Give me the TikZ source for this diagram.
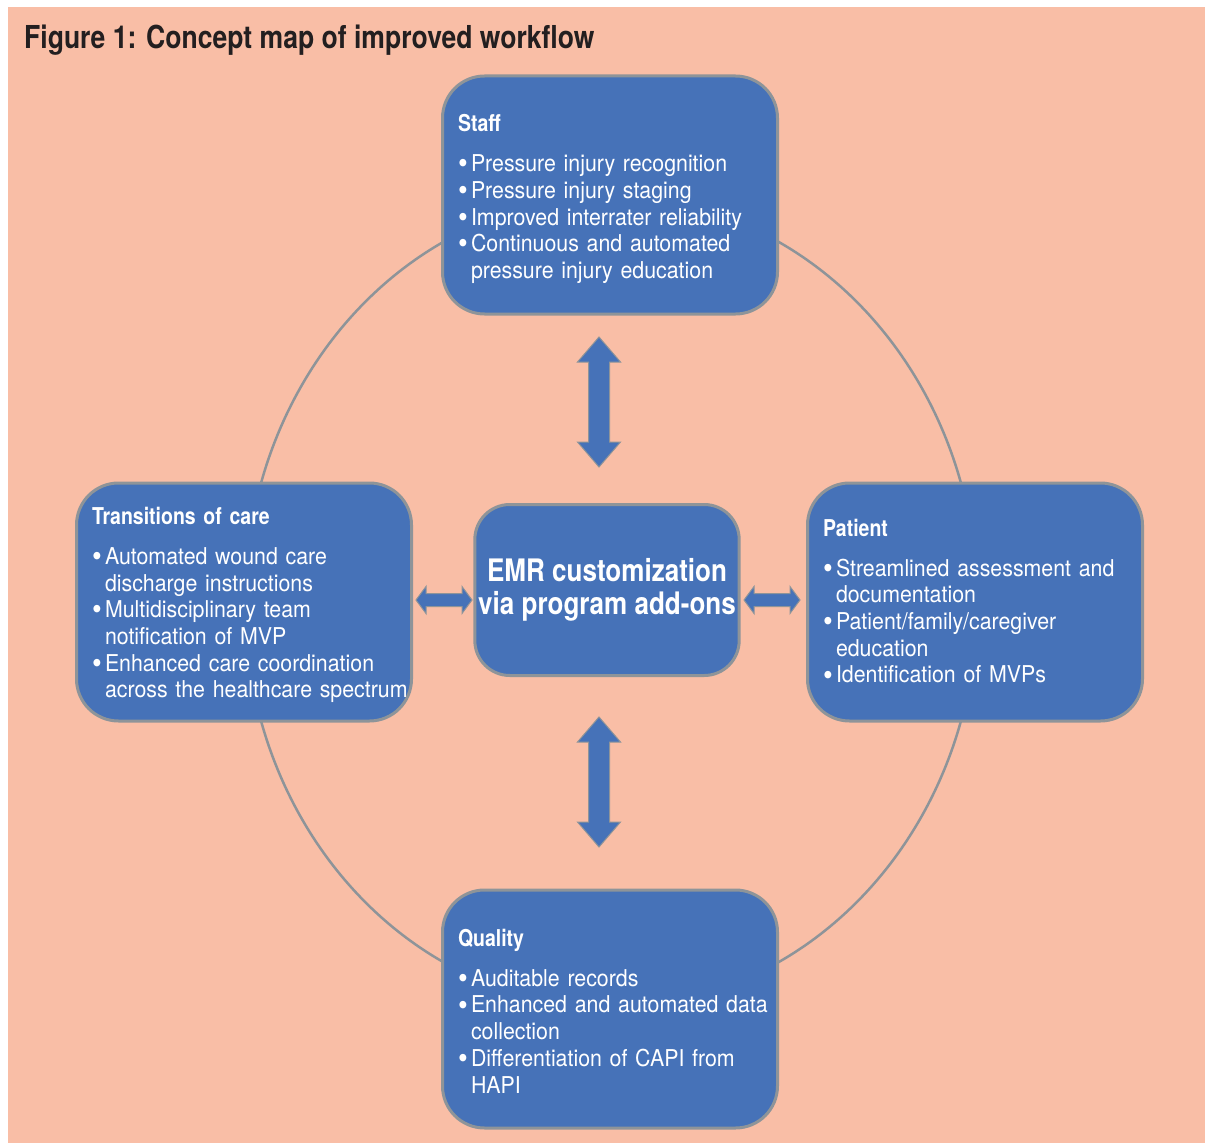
\documentclass[tikz,border=0pt]{standalone}
\usepackage{fontspec}
\setmainfont{TeX Gyre Heros}[FakeStretch=0.92]
\newfontfamily\headfont{TeX Gyre Heros}[FakeStretch=0.84]

\definecolor{salmon}{HTML}{F9BEA6}
\definecolor{boxblue}{HTML}{4672B8}
\definecolor{rimgray}{HTML}{8E9499}
\definecolor{titleblack}{HTML}{231F20}

\newcommand{\bigbul}{\raisebox{-2.2pt}{\scalebox{1.3}{\textbullet}}}
\newcommand{\hd}[1]{{\headfont\bfseries #1}\par\vspace{13.3pt}}
\newcommand{\itm}[1]{\noindent\makebox[13pt][l]{\bigbul}\mbox{#1}\par}
\newcommand{\itmm}[2]{\noindent\makebox[13pt][l]{\bigbul}\mbox{#1}\par
  \noindent\hspace*{13pt}\mbox{#2}\par}

\tikzset{
  topic/.style={draw=rimgray, line width=3pt, fill=boxblue, rounded corners=42pt,
    minimum width=335pt, minimum height=238pt, text width=304pt, inner xsep=15.5pt,
    inner ysep=0pt, align=left, text=white, font=\fontsize{23.2}{26.7}\selectfont},
  hub/.style={draw=rimgray, line width=3pt, fill=boxblue, rounded corners=35pt,
    minimum width=259pt, minimum height=171pt, align=center, text=white,
    font=\headfont\bfseries\fontsize{31}{33.5}\selectfont},
  ring/.style={draw=rimgray, line width=2.5pt},
  blockarrow/.style={fill=boxblue, draw=rimgray, line width=1pt, line join=miter}
}

\begin{document}
\begin{tikzpicture}[x=1pt,y=-1pt]
  \useasboundingbox (0,0) rectangle (1205,1145);
  \fill[salmon] (8,7) rectangle (1205,1143);

  \node[anchor=base west, inner sep=0pt, text=titleblack,
    font=\headfont\bfseries\fontsize{31.6}{31.6}\selectfont] (title) at (24,49)
    {Figure 1: Concept map of improved workflow};

  % ring behind the boxes
  \draw[ring] (611,602) ellipse [x radius=366, y radius=405];

  \node[topic] (staff) at (610,195) {%
    \hd{Staff}
    \itm{Pressure injury recognition}
    \itm{Pressure injury staging}
    \itm{Improved interrater reliability}
    \itmm{Continuous and automated}{pressure injury education}
    \vspace{-8pt}};

  \node[topic] (trans) at (244,602) {%
    \hd{Transitions of care}
    \itmm{Automated wound care}{discharge instructions}
    \itmm{Multidisciplinary team}{notification of MVP}
    \itmm{Enhanced care coordination}{across the healthcare spectrum}
    \vspace{-6pt}};

  \node[topic] (patient) at (975,602) {%
    \hd{Patient}
    \itmm{Streamlined assessment and}{documentation}
    \itmm{Patient/family/caregiver}{education}
    \itm{Identification of MVPs}};

  \node[topic] (quality) at (610,1009) {%
    \hd{Quality}
    \itm{Auditable records}
    \itmm{Enhanced and automated data}{collection}
    \itmm{Differentiation of CAPI from}{HAPI}
    \vspace{-4pt}};

  \node[hub] (emr) at (607,590) {EMR customization\\via program add-ons};

  % block arrows between the hub and the topics
  \coordinate (upar) at (599,402);
  \coordinate (downar) at (599,782);
  \coordinate (leftar) at (444,600);
  \coordinate (rightar) at (772,600);
  \draw[blockarrow] (upar) ++(0,-65) -- ++(21.5,25) -- ++(-11,0) -- ++(0,80) -- ++(11,0)
    -- ++(-21.5,25) -- ++(-21.5,-25) -- ++(11,0) -- ++(0,-80) -- ++(-11,0) -- cycle;
  \draw[blockarrow] (downar) ++(0,-65) -- ++(21.5,25) -- ++(-11,0) -- ++(0,80) -- ++(11,0)
    -- ++(-21.5,25) -- ++(-21.5,-25) -- ++(11,0) -- ++(0,-80) -- ++(-11,0) -- cycle;
  \draw[blockarrow] (leftar) ++(-28,0) -- ++(10,-13.5) -- ++(0,7) -- ++(36,0) -- ++(0,-7)
    -- ++(10,13.5) -- ++(-10,13.5) -- ++(0,-7) -- ++(-36,0) -- ++(0,7) -- cycle;
  \draw[blockarrow] (rightar) ++(-28,0) -- ++(10,-13.5) -- ++(0,7) -- ++(36,0) -- ++(0,-7)
    -- ++(10,13.5) -- ++(-10,13.5) -- ++(0,-7) -- ++(-36,0) -- ++(0,7) -- cycle;
\end{tikzpicture}
\end{document}
